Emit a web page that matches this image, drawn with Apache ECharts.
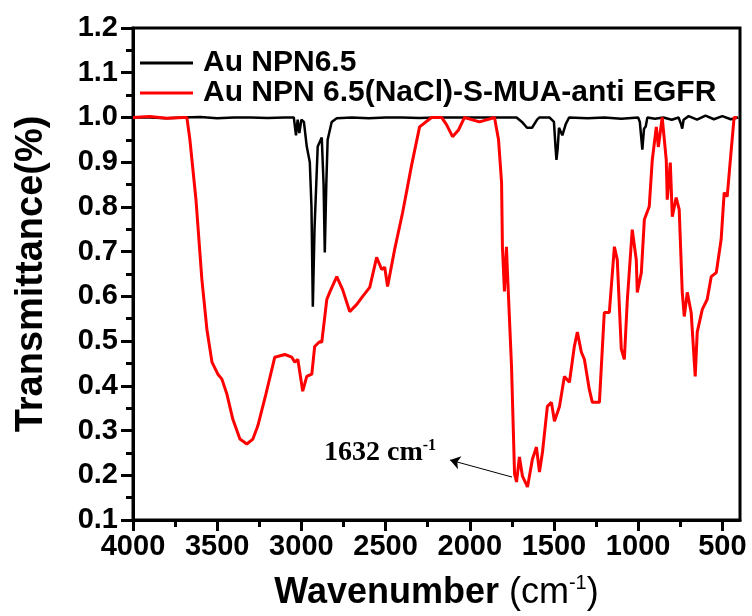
<!DOCTYPE html>
<html>
<head>
<meta charset="utf-8">
<title>FTIR Au NPN</title>
<style>
  html, body { margin: 0; padding: 0; background: #fff; }
  #chart { width: 752px; height: 616px; }
</style>
</head>
<body>
<div id="chart"></div>
<script src="https://cdn.jsdelivr.net/npm/echarts@6/dist/echarts.min.js"></script>
<script>
// Au NPN6.5 (black)
var blackWave = [4000, 3900, 3800, 3700, 3600, 3500, 3400, 3300, 3200, 3100, 3045, 3032, 3022, 3012, 3000, 2985, 2968, 2950, 2940, 2932, 2922, 2903, 2879, 2868, 2861, 2852, 2844, 2820, 2790, 2700, 2600, 2500, 2400, 2300, 2200, 2100, 2000, 1900, 1800, 1722, 1690, 1660, 1630, 1600, 1586, 1527, 1500, 1490, 1485, 1478, 1470, 1450, 1430, 1410, 1300, 1200, 1100, 1000, 990, 975, 965, 955, 945, 900, 850, 800, 760, 745, 738, 730, 700, 650, 600, 550, 500, 450, 405];
var blackT = [1.0, 1.0, 0.998, 1.0, 1.001, 0.998, 1.0, 1.0, 0.999, 1.0, 1.0, 0.96, 0.995, 0.965, 0.995, 0.99, 0.935, 0.90, 0.80, 0.577, 0.75, 0.935, 0.955, 0.85, 0.698, 0.85, 0.95, 0.99, 0.998, 1.0, 0.998, 1.0, 1.0, 0.999, 1.0, 1.0, 1.0, 1.0, 1.0, 1.0, 0.99, 0.977, 0.977, 0.995, 1.0, 1.0, 0.99, 0.93, 0.905, 0.93, 0.977, 0.96, 0.985, 1.0, 0.998, 1.0, 0.997, 1.0, 0.99, 0.928, 0.975, 0.98, 1.0, 0.997, 1.0, 0.995, 1.0, 0.985, 0.975, 0.995, 1.003, 0.995, 1.004, 0.996, 1.003, 0.996, 1.0];

// Au NPN 6.5(NaCl)-S-MUA-anti EGFR (red)
var redWave = [4000, 3900, 3800, 3700, 3680, 3662, 3626, 3591, 3561, 3531, 3496, 3472, 3442, 3407, 3365, 3324, 3288, 3259, 3211, 3158, 3098, 3057, 3039, 3021, 2992, 2968, 2938, 2921, 2891, 2879, 2849, 2832, 2790, 2755, 2713, 2671, 2636, 2594, 2553, 2523, 2505, 2488, 2446, 2399, 2345, 2298, 2227, 2167, 2138, 2102, 2067, 2031, 1942, 1853, 1829, 1811, 1806, 1794, 1782, 1776, 1752, 1734, 1722, 1705, 1687, 1657, 1628, 1604, 1586, 1568, 1539, 1515, 1497, 1467, 1438, 1408, 1379, 1361, 1337, 1319, 1290, 1272, 1230, 1201, 1171, 1141, 1124, 1100, 1082, 1064, 1035, 1011, 1005, 981, 963, 934, 916, 892, 880, 857, 833, 827, 809, 797, 774, 756, 738, 726, 708, 685, 661, 649, 619, 590, 566, 536, 507, 489, 471, 447, 430, 412];
var redT = [1.0, 1.002, 0.998, 1.0, 1.0, 0.95, 0.816, 0.638, 0.526, 0.453, 0.426, 0.415, 0.381, 0.325, 0.281, 0.27, 0.281, 0.31, 0.381, 0.464, 0.47, 0.464, 0.453, 0.459, 0.388, 0.421, 0.426, 0.488, 0.499, 0.497, 0.593, 0.609, 0.644, 0.615, 0.566, 0.582, 0.6, 0.62, 0.687, 0.66, 0.665, 0.622, 0.705, 0.787, 0.894, 0.979, 1.0, 1.0, 0.984, 0.957, 0.972, 1.0, 0.99, 1.0, 0.95, 0.854, 0.711, 0.611, 0.711, 0.653, 0.444, 0.203, 0.185, 0.241, 0.198, 0.174, 0.236, 0.263, 0.207, 0.252, 0.354, 0.363, 0.321, 0.354, 0.421, 0.408, 0.488, 0.52, 0.475, 0.459, 0.392, 0.363, 0.363, 0.564, 0.564, 0.711, 0.682, 0.482, 0.459, 0.593, 0.749, 0.682, 0.609, 0.653, 0.772, 0.801, 0.905, 0.979, 0.934, 1.0, 0.905, 0.816, 0.899, 0.778, 0.821, 0.794, 0.609, 0.555, 0.609, 0.564, 0.421, 0.52, 0.571, 0.593, 0.644, 0.653, 0.727, 0.832, 0.823, 0.928, 1.0, 1.0];

var xMajor = [500, 1000, 1500, 2000, 2500, 3000, 3500, 4000];
var xMinor = [750, 1250, 1750, 2250, 2750, 3250, 3750];

// arrow + text for the 1632 band
var arrowFrom = [1749, 0.196];
var arrowTo = [2117, 0.234];
var noteAt = [2533, 0.25];

function zip(xs, ys) {
  return xs.map(function (x, i) { return [x, ys[i]]; });
}

var chart = echarts.init(document.getElementById('chart'));
var sans = 'Liberation Sans, Arial, sans-serif';

chart.setOption({
  animation: false,
  backgroundColor: '#fff',
  grid: {
    left: 133, right: 12, top: 28, bottom: 96,
    show: true, borderColor: '#000', borderWidth: 3
  },
  legend: {
    orient: 'vertical',
    left: 140, top: 48,
    padding: 0,
    itemGap: 0,
    icon: 'rect',
    itemWidth: 53,
    itemHeight: 3,
    textStyle: { fontFamily: sans, fontWeight: 'bold', fontSize: 30, lineHeight: 30, color: '#000', padding: [0, 0, 0, 5] },
    data: ['Au NPN6.5', 'Au NPN 6.5(NaCl)-S-MUA-anti EGFR']
  },
  xAxis: [{
    type: 'value',
    min: 395, max: 4000, inverse: true,
    name: '{b|Wavenumber }{n|(cm}{s|-1}{n|)}',
    nameLocation: 'middle',
    nameGap: 53,
    nameTextStyle: {
      rich: {
        b: { fontFamily: sans, fontWeight: 'bold', fontSize: 36, lineHeight: 40, color: '#000' },
        n: { fontFamily: sans, fontWeight: 'normal', fontSize: 36, lineHeight: 40, color: '#000' },
        s: { fontFamily: sans, fontWeight: 'normal', fontSize: 20, lineHeight: 20, color: '#000', verticalAlign: 'top' }
      }
    },
    splitLine: { show: false },
    axisLine: { lineStyle: { color: '#000', width: 3 } },
    axisTick: { customValues: xMajor, length: 11, lineStyle: { color: '#000', width: 3 } },
    axisLabel: {
      customValues: xMajor, margin: 12,
      fontFamily: sans, fontWeight: 'bold', fontSize: 29, color: '#000',
      formatter: function (v) { return String(v); }
    }
  }, {
    type: 'value',
    min: 395, max: 4000, inverse: true,
    position: 'bottom',
    splitLine: { show: false },
    axisLine: { show: false },
    axisTick: { customValues: xMinor, length: 7, lineStyle: { color: '#000', width: 3 } },
    axisLabel: { show: false }
  }],
  yAxis: {
    type: 'value',
    min: 0.1, max: 1.2, interval: 0.1,
    name: 'Transmittance(%)',
    nameLocation: 'middle',
    nameGap: 82,
    nameTextStyle: { fontFamily: sans, fontWeight: 'bold', fontSize: 38, color: '#000' },
    splitLine: { show: false },
    axisLine: { lineStyle: { color: '#000', width: 3 } },
    axisTick: { length: 12, lineStyle: { color: '#000', width: 3 } },
    minorTick: { show: true, splitNumber: 2, length: 7, lineStyle: { color: '#000', width: 3 } },
    minorSplitLine: { show: false },
    axisLabel: {
      margin: 15,
      fontFamily: sans, fontWeight: 'bold', fontSize: 29, color: '#000',
      formatter: function (v) { return v.toFixed(1); }
    }
  },
  series: [{
    name: 'Au NPN6.5',
    type: 'line',
    xAxisIndex: 0,
    symbol: 'none',
    lineStyle: { color: '#000', width: 2.5 },
    itemStyle: { color: '#000' },
    data: zip(blackWave, blackT)
  }, {
    name: 'Au NPN 6.5(NaCl)-S-MUA-anti EGFR',
    type: 'line',
    xAxisIndex: 0,
    symbol: 'none',
    lineStyle: { color: '#ff0000', width: 3 },
    itemStyle: { color: '#ff0000' },
    data: zip(redWave, redT),
    markLine: {
      silent: true,
      animation: false,
      symbol: ['none', 'arrow'],
      symbolSize: 10,
      lineStyle: { color: '#000', width: 1, type: 'solid' },
      itemStyle: { color: '#000' },
      label: { show: false },
      data: [[{ coord: arrowFrom }, { coord: arrowTo }]]
    },
    markPoint: {
      silent: true,
      symbol: 'circle',
      symbolSize: 0,
      label: {
        show: true,
        position: 'inside',
        formatter: '{n|1632 cm}{s|-1}',
        rich: {
          n: { fontFamily: 'Liberation Serif, Times New Roman, serif', fontWeight: 'bold', fontSize: 28, lineHeight: 30, color: '#000' },
          s: { fontFamily: 'Liberation Serif, Times New Roman, serif', fontWeight: 'bold', fontSize: 16, lineHeight: 16, color: '#000', verticalAlign: 'top' }
        }
      },
      data: [{ coord: noteAt }]
    }
  }]
});
</script>
</body>
</html>
